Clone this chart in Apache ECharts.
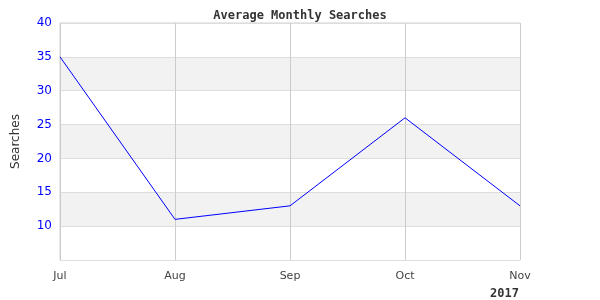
<!DOCTYPE html>
<html><head><meta charset="utf-8">
<script src="https://cdn.jsdelivr.net/npm/echarts@6/dist/echarts.min.js"></script>
<style>html,body{margin:0;padding:0;background:#fff}#c{width:600px;height:300px}</style>
</head><body><div id="c"></div>
<script>
const categories = ['Jul','Aug','Sep','Oct','Nov'];
const searches = [35, 11, 13, 26, 13];
const yearLabel = '2017';
const chart = echarts.init(document.getElementById('c'), null, {renderer:'canvas'});
chart.setOption({
  animation:false,
  title:{text:'Average Monthly Searches', left:'center', top:5,
    textStyle:{fontFamily:'DejaVu Sans Mono', fontWeight:'bold', fontSize:12, color:'#333'}},
  grid:{left:60, right:80, top:23, bottom:40, show:true, borderColor:'#d0d0d0', borderWidth:1},
  xAxis:{type:'category', data:categories, boundaryGap:false,
    axisLine:{show:false}, axisTick:{show:false},
    axisLabel:{color:'#444', fontFamily:'DejaVu Sans', fontSize:11, margin:11},
    splitLine:{show:true, lineStyle:{color:'#cccccc'}}},
  yAxis:{type:'value', min:5, max:40, interval:5,
    name:'Searches', nameLocation:'middle', nameGap:38, nameRotate:90,
    nameTextStyle:{fontFamily:'DejaVu Sans', fontSize:12, color:'#333'},
    axisLine:{show:false}, axisTick:{show:false},
    axisLabel:{color:'#0000ff', fontFamily:'DejaVu Sans', fontSize:12, margin:8,
      formatter:v=> v===5 ? '' : String(v)},
    splitLine:{show:true, lineStyle:{color:'#dddddd'}},
    splitArea:{show:true, areaStyle:{color:['#ffffff','#f2f2f2']}}},
  series:[{type:'line', data:searches, symbol:'none',
    lineStyle:{color:'#0000ff', width:1}}],
  graphic:[{type:'text', right:81, top:288,
    style:{text:yearLabel, font:'bold 12px "DejaVu Sans Mono"', fill:'#333'}}]
});
</script></body></html>
